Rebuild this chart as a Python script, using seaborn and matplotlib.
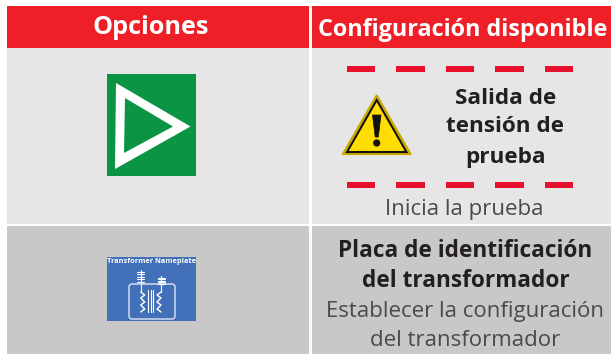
import matplotlib
matplotlib.use("Agg")
import matplotlib.pyplot as plt
import seaborn as sns
from matplotlib.patches import Rectangle, Polygon, FancyBboxPatch, Circle

sns.set_theme(style="white")
plt.rcParams['font.family'] = ['Open Sans', 'DejaVu Sans']

headers = ["Opciones", "Configuración disponible"]
warning_lines = ["Salida de", "tensión de", "prueba"]
warning_note = "Inicia la prueba"
row2_title = ["Placa de identificación", "del transformador"]
row2_body = ["Establecer la configuración", "del transformador"]
icon_label = "Transformer Nameplate"
red = "#ee1f27"
dash_red = "#e8112d"
ink = "#231f20"
note_ink = "#4a4a4a"

fig = plt.figure(figsize=(6.11, 3.54), dpi=100)
ax = fig.add_axes([0, 0, 1, 1])
ax.set_xlim(0, 611)
ax.set_ylim(354, 0)
ax.axis("off")

def rect(x0, y0, x1, y1, c, **k):
    ax.add_patch(Rectangle((x0, y0), x1 - x0, y1 - y0, fc=c, ec="none", **k))

# table
rect(7, 6, 309, 48, red)
rect(312, 6, 611, 48, red)
rect(7, 48, 309, 224, "#e6e6e6")
rect(312, 48, 611, 224, "#e6e6e6")
rect(7, 226, 309, 354, "#c8c8c8")
rect(312, 226, 611, 354, "#c8c8c8")
ax.text(151, 27, headers[0], color="white", fontsize=18.2, fontweight="bold", ha="center", va="center")
ax.text(462.5, 30, headers[1], color="white", fontsize=16.8, fontweight="bold", ha="center", va="center")

# play icon
rect(107, 74, 196, 176, "#0a9444")
ax.add_patch(Polygon([(116, 83), (190.5, 126.5), (115, 169)], fc="white", ec="none"))
ax.add_patch(Polygon([(125, 98), (173, 126.5), (124, 153)], fc="#0a9444", ec="none"))

# dashes
for y in (69, 185):
    for x0, x1 in [(347, 375), (396, 425), (446, 474), (495, 524), (545, 573)]:
        rect(x0, y - 3, x1, y + 3, dash_red)

# warning sign
ax.add_patch(Polygon([(376.7, 95.5), (410.5, 154), (343, 154)], fc="#ffdd00", ec="#c9a800",
                     lw=1.6, joinstyle="round"))
ax.add_patch(Polygon([(376.7, 100), (406.5, 152), (347, 152)], fc="#ffdd00", ec="#111111",
                     lw=1.5, joinstyle="miter"))
ax.add_patch(Polygon([(372.5, 115), (381, 115), (378.3, 137), (375.2, 137)], fc="#111111", ec="#111111",
                     lw=0.5, joinstyle="round"))
ax.add_patch(Circle((376.7, 143), 3.6, fc="#111111", ec="none"))

for t, y in zip(warning_lines, (98, 127, 157)):
    ax.text(505.5, y, t, color=ink, fontsize=16.2, fontweight="bold", ha="center", va="center")
ax.text(464, 210, warning_note, color=note_ink, fontsize=16.0, ha="center", va="center")

# row 2 text
for t, y in zip(row2_title, (251, 281)):
    ax.text(465.5, y, t, color=ink, fontsize=16.3, fontweight="bold", ha="center", va="center")
for t, y in zip(row2_body, (311, 340)):
    ax.text(465.5, y, t, color=note_ink, fontsize=16.0, ha="center", va="center")

# transformer icon
blue = "#4270b8"
rect(107, 257, 196, 321, blue)
ax.text(151.5, 261.5, icon_label, color="white", fontsize=5.3, fontweight="bold", ha="center", va="center")
ax.add_patch(FancyBboxPatch((129, 284), 46, 35, boxstyle="round,pad=0,rounding_size=3",
                            fc="none", ec="#dfe7f5", lw=1.0))
for x, top, h in [(140.7, 270, 13), (161, 276, 8)]:
    ax.plot([x, x], [top, 292], color="#e8eef8", lw=0.9)
    for k in range(5):
        yy = top + 1.5 + k * h / 5
        ax.plot([x - 3.5, x + 3.5], [yy, yy], color="white", lw=0.8)
    d = 4 if x < 150 else -4
    ax.plot([x + d * s for s in (0, 1, 0, 1, 0, 1, 0)], [292, 295, 298, 302, 305, 309, 312], color="white", lw=1.0)
for x in (148, 150.5, 153):
    ax.plot([x, x], [290, 312], color="white", lw=0.8)

fig.savefig("out.png", dpi=100)
